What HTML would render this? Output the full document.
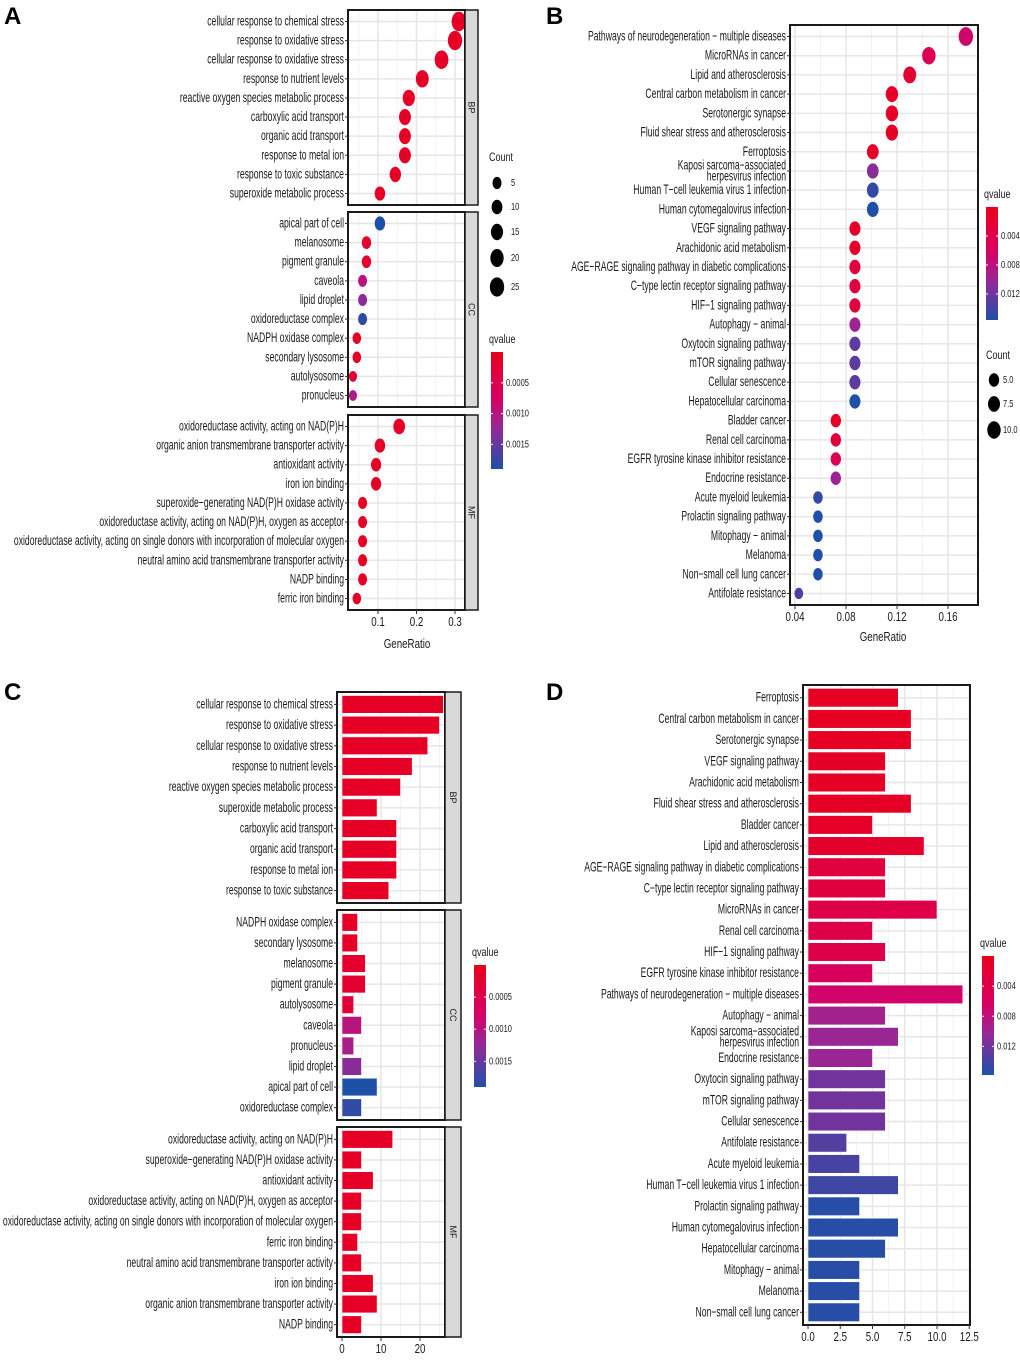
<!DOCTYPE html>
<html><head><meta charset="utf-8"><style>
html,body{margin:0;padding:0;background:#fff;}
svg{display:block;font-family:"Liberation Sans",Arial,sans-serif;}
</style></head><body>
<svg id="fig" width="1020" height="1361" viewBox="0 0 1020 1361" xmlns="http://www.w3.org/2000/svg"></svg>
<script>
// ---------- DATA ----------
const aBPTerms=["cellular response to chemical stress","response to oxidative stress","cellular response to oxidative stress","response to nutrient levels","reactive oxygen species metabolic process","carboxylic acid transport","organic acid transport","response to metal ion","response to toxic substance","superoxide metabolic process"];
const aBPRatio=[0.31,0.30,0.265,0.215,0.18,0.17,0.17,0.17,0.145,0.105];
const aBPCount=[26,25,22,18,15,14,14,14,12,9];
const aBPQ=[0.0001,0.0001,0.0001,0.0001,0.0001,0.0001,0.0001,0.0001,0.0001,0.0001];
const aCCTerms=["apical part of cell","melanosome","pigment granule","caveola","lipid droplet","oxidoreductase complex","NADPH oxidase complex","secondary lysosome","autolysosome","pronucleus"];
const aCCRatio=[0.105,0.07,0.07,0.06,0.06,0.06,0.045,0.045,0.035,0.035];
const aCCCount=[9,6,6,5,5,5,4,4,3,3];
const aCCQ=[0.0019,0.0002,0.0002,0.0010,0.0013,0.0018,0.0001,0.0001,0.0003,0.0011];
const aMFTerms=["oxidoreductase activity, acting on NAD(P)H","organic anion transmembrane transporter activity","antioxidant activity","iron ion binding","superoxide\u2212generating NAD(P)H oxidase activity","oxidoreductase activity, acting on NAD(P)H, oxygen as acceptor","oxidoreductase activity, acting on single donors with incorporation of molecular oxygen","neutral amino acid transmembrane transporter activity","NADP binding","ferric iron binding"];
const aMFRatio=[0.155,0.105,0.095,0.095,0.06,0.06,0.06,0.06,0.06,0.045];
const aMFCount=[13,9,8,8,5,5,5,5,5,4];
const aMFQ=[0.0001,0.0001,0.0001,0.0001,0.0001,0.0001,0.0001,0.0001,0.0001,0.0001];

const bTerms=["Pathways of neurodegeneration \u2212 multiple diseases","MicroRNAs in cancer","Lipid and atherosclerosis","Central carbon metabolism in cancer","Serotonergic synapse","Fluid shear stress and atherosclerosis","Ferroptosis","Kaposi sarcoma\u2212associated\nherpesvirus infection","Human T\u2212cell leukemia virus 1 infection","Human cytomegalovirus infection","VEGF signaling pathway","Arachidonic acid metabolism","AGE\u2212RAGE signaling pathway in diabetic complications","C\u2212type lectin receptor signaling pathway","HIF\u22121 signaling pathway","Autophagy \u2212 animal","Oxytocin signaling pathway","mTOR signaling pathway","Cellular senescence","Hepatocellular carcinoma","Bladder cancer","Renal cell carcinoma","EGFR tyrosine kinase inhibitor resistance","Endocrine resistance","Acute myeloid leukemia","Prolactin signaling pathway","Mitophagy \u2212 animal","Melanoma","Non\u2212small cell lung cancer","Antifolate resistance"];
const bRatio=[0.174,0.145,0.130,0.116,0.116,0.116,0.101,0.101,0.101,0.101,0.087,0.087,0.087,0.087,0.087,0.087,0.087,0.087,0.087,0.087,0.072,0.072,0.072,0.072,0.058,0.058,0.058,0.058,0.058,0.043];
const bCount=[12,10,9,8,8,8,7,7,7,7,6,6,6,6,6,6,6,6,6,6,5,5,5,5,4,4,4,4,4,3];
const bQ=[0.007,0.005,0.002,0.001,0.001,0.001,0.001,0.011,0.015,0.016,0.001,0.001,0.003,0.003,0.003,0.010,0.013,0.013,0.013,0.016,0.001,0.003,0.005,0.010,0.015,0.016,0.016,0.016,0.016,0.014];

const cBPTerms=["cellular response to chemical stress","response to oxidative stress","cellular response to oxidative stress","response to nutrient levels","reactive oxygen species metabolic process","superoxide metabolic process","carboxylic acid transport","organic acid transport","response to metal ion","response to toxic substance"];
const cBPCount=[26,25,22,18,15,9,14,14,14,12];
const cBPQ=[0.0001,0.0001,0.0001,0.0001,0.0001,0.0001,0.0001,0.0001,0.0001,0.0001];
const cCCTerms=["NADPH oxidase complex","secondary lysosome","melanosome","pigment granule","autolysosome","caveola","pronucleus","lipid droplet","apical part of cell","oxidoreductase complex"];
const cCCCount=[4,4,6,6,3,5,3,5,9,5];
const cCCQ=[0.0001,0.0001,0.0002,0.0002,0.0003,0.0010,0.0011,0.0013,0.0019,0.0018];
const cMFTerms=["oxidoreductase activity, acting on NAD(P)H","superoxide\u2212generating NAD(P)H oxidase activity","antioxidant activity","oxidoreductase activity, acting on NAD(P)H, oxygen as acceptor","oxidoreductase activity, acting on single donors with incorporation of molecular oxygen","ferric iron binding","neutral amino acid transmembrane transporter activity","iron ion binding","organic anion transmembrane transporter activity","NADP binding"];
const cMFCount=[13,5,8,5,5,4,5,8,9,5];
const cMFQ=[0.0001,0.0001,0.0001,0.0001,0.0001,0.0001,0.0001,0.0001,0.0001,0.0001];

const dTerms=["Ferroptosis","Central carbon metabolism in cancer","Serotonergic synapse","VEGF signaling pathway","Arachidonic acid metabolism","Fluid shear stress and atherosclerosis","Bladder cancer","Lipid and atherosclerosis","AGE\u2212RAGE signaling pathway in diabetic complications","C\u2212type lectin receptor signaling pathway","MicroRNAs in cancer","Renal cell carcinoma","HIF\u22121 signaling pathway","EGFR tyrosine kinase inhibitor resistance","Pathways of neurodegeneration \u2212 multiple diseases","Autophagy \u2212 animal","Kaposi sarcoma\u2212associated\nherpesvirus infection","Endocrine resistance","Oxytocin signaling pathway","mTOR signaling pathway","Cellular senescence","Antifolate resistance","Acute myeloid leukemia","Human T\u2212cell leukemia virus 1 infection","Prolactin signaling pathway","Human cytomegalovirus infection","Hepatocellular carcinoma","Mitophagy \u2212 animal","Melanoma","Non\u2212small cell lung cancer"];
const dCount=[7,8,8,6,6,8,5,9,6,6,10,5,6,5,12,6,7,5,6,6,6,3,4,7,4,7,6,4,4,4];
const dQ=[0.0005,0.0005,0.0005,0.0008,0.0008,0.0008,0.001,0.0015,0.003,0.003,0.004,0.004,0.004,0.006,0.007,0.010,0.0105,0.0105,0.0125,0.0125,0.0125,0.014,0.0145,0.015,0.016,0.016,0.016,0.016,0.016,0.016];

const aTicks=[0.1,0.2,0.3], aTickLabels=["0.1","0.2","0.3"];
const bTicks=[0.04,0.08,0.12,0.16], bTickLabels=["0.04","0.08","0.12","0.16"];
const cTicks=[0,10,20], cTickLabels=["0","10","20"];
const dTicks=[0,2.5,5,7.5,10,12.5], dTickLabels=["0.0","2.5","5.0","7.5","10.0","12.5"];

// ---------- HELPERS ----------
const NS="http://www.w3.org/2000/svg";
const svg=document.getElementById('fig');
function mk(tag,attrs,parent){const e=document.createElementNS(NS,tag);for(const k in attrs)e.setAttribute(k,attrs[k]);(parent||svg).appendChild(e);return e;}
const stops=[[0,[232,0,28]],[0.4,[216,0,100]],[0.65,[150,40,150]],[1,[30,80,168]]];
function qcol(t){t=Math.max(0,Math.min(1,t));for(let i=1;i<stops.length;i++){if(t<=stops[i][0]){const a=stops[i-1],b=stops[i];const f=(t-a[0])/(b[0]-a[0]);const c=a[1].map((v,j)=>Math.round(v+(b[1][j]-v)*f));return `rgb(${c[0]},${c[1]},${c[2]})`;}}return 'rgb(30,80,168)';}
function label(txt,x,y,parent,size,anchor){
  const lines=txt.split("\n");
  const g=mk('g',{},parent);
  lines.forEach((ln,i)=>{
    const yy=y+(i-(lines.length-1)/2)*11;
    const t=mk('text',{transform:`translate(${x},${yy+4}) scale(0.64,1)`,'font-size':size||13,'text-anchor':anchor||'end',fill:'#1a1a1a'},g);
    t.textContent=ln;
  });
  return g;
}
function smallText(txt,x,y,size,anchor){const t=mk('text',{transform:`translate(${x},${y}) scale(0.75,1)`,'font-size':size||11,'text-anchor':anchor||'start',fill:'#1a1a1a'});t.textContent=txt;return t;}
function panelBox(x0,x1,y0,y1,xMajor,xMinor,xs,n,parent){
  mk('rect',{x:x0,y:y0,width:x1-x0,height:y1-y0,fill:'#fff'},parent);
  const step=(y1-y0)/(n-1+1.2);
  xMinor.forEach(v=>mk('line',{x1:xs(v),x2:xs(v),y1:y0,y2:y1,stroke:'#f2f2f2','stroke-width':1},parent));
  xMajor.forEach(v=>mk('line',{x1:xs(v),x2:xs(v),y1:y0,y2:y1,stroke:'#e6e6e6','stroke-width':1.5},parent));
  for(let i=0;i<n;i++){const y=y0+(0.6+i)*step;mk('line',{x1:x0,x2:x1,y1:y,y2:y,stroke:'#e6e6e6','stroke-width':1.5},parent);}
  return step;
}
function frame(x0,x1,y0,y1,parent){mk('rect',{x:x0,y:y0,width:x1-x0,height:y1-y0,fill:'none',stroke:'#1a1a1a','stroke-width':2},parent);}
function strip(x0,x1,y0,y1,txt,parent){
  mk('rect',{x:x0,y:y0,width:x1-x0,height:y1-y0,fill:'#d9d9d9',stroke:'#1a1a1a','stroke-width':1.5},parent);
  const t=mk('text',{transform:`translate(${(x0+x1)/2-3},${(y0+y1)/2}) rotate(90)`,'font-size':9,'text-anchor':'middle',fill:'#1a1a1a'},parent);t.textContent=txt;
}
function rowLabels(terms,x0,y0,step,parent){
  terms.forEach((tm,i)=>{const y=y0+(0.6+i)*step;
    const lg=label(tm,x0-4,y,parent,13.5,'end');
    
    
    mk('line',{x1:x0-3,x2:x0,y1:y,y2:y,stroke:'#333','stroke-width':1},parent);});
}
function xAxis(ticks,labels,xs,y,parent){
  ticks.forEach((v,i)=>{mk('line',{x1:xs(v),x2:xs(v),y1:y,y2:y+4,stroke:'#333','stroke-width':1},parent);
    const t=smallText(labels[i],xs(v),y+16,13,'middle');});
}
function colorbar(x,y0,y1,vals,labs,qmax,title,parent){
  const id='grad'+x;
  const defs=mk('defs',{},parent);const lg=mk('linearGradient',{id:id,x1:0,y1:0,x2:0,y2:1},defs);
  stops.forEach(s=>mk('stop',{offset:s[0],'stop-color':qcol(s[0])},lg));
  const tt=smallText(title,x-2,y0-9,12);
  const r=mk('rect',{x:x,y:y0,width:12,height:y1-y0,fill:`url(#${id})`},parent);
  
  
  vals.forEach((v,i)=>{const yy=y0+(v/qmax)*(y1-y0);
    mk('line',{x1:x,x2:x+2,y1:yy,y2:yy,stroke:'#fff'},parent);mk('line',{x1:x+10,x2:x+12,y1:yy,y2:yy,stroke:'#fff'},parent);
    smallText(labs[i],x+15,yy+3,10);});
}
function letter(t,x,y){const e=mk('text',{x:x,y:y,'font-size':24,'font-weight':'bold',fill:'#000'});e.textContent=t;}

// ---------- PANEL A ----------
letter('A',4,24);
const gA=mk('g',{});
const xsA=v=>378+(v-0.1)*385;
const rA=c=>2.4+0.95*Math.sqrt(c);
const facA=[[aBPTerms,aBPRatio,aBPCount,aBPQ,10,205,'BP'],[aCCTerms,aCCRatio,aCCCount,aCCQ,212,407,'CC'],[aMFTerms,aMFRatio,aMFCount,aMFQ,415,610,'MF']];
facA.forEach(f=>{
  const st=panelBox(348,465,f[4],f[5],aTicks,[0.05,0.15,0.25],xsA,f[0].length,gA);
  f[0].forEach((tm,i)=>{const y=f[4]+(0.6+i)*st;const r=rA(f[2][i]);
    const c=mk('ellipse',{cx:xsA(f[1][i]),cy:y,rx:r,ry:r*1.35,fill:qcol(f[3][i]/0.0019)},gA);
    
    });
  frame(348,465,f[4],f[5],gA);strip(465,478,f[4],f[5],f[6],gA);rowLabels(f[0],348,f[4],st,gA);
});
xAxis(aTicks,aTickLabels,xsA,610,gA);
smallText('GeneRatio',407,648,13,'middle');
smallText('Count',489,161,12);
[5,10,15,20,25].forEach((c,i)=>{const y=[183,207,232,258,287][i];const r=rA(c);
  const e=mk('ellipse',{cx:497,cy:y,rx:r,ry:r*1.35,fill:'#000'});
  smallText(String(c),511,y+3,10);});
colorbar(491,352,469,[0.0005,0.0010,0.0015],["0.0005","0.0010","0.0015"],0.0019,'qvalue',svg);

// ---------- PANEL B ----------
letter('B',546,24);
const gB=mk('g',{});
const xsB=v=>795+(v-0.04)*1275;
const rB=c=>1.5+1.65*Math.sqrt(c);
const stB=panelBox(790,978,25,605,bTicks,[0.06,0.10,0.14],xsB,bTerms.length,gB);
bTerms.forEach((tm,i)=>{const y=25+(0.6+i)*stB;const r=rB(bCount[i]);
  const c=mk('ellipse',{cx:xsB(bRatio[i]),cy:y,rx:r,ry:r*1.3,fill:qcol(bQ[i]/0.016)},gB);
  
  });
frame(790,978,25,605,gB);rowLabels(bTerms,790,25,stB,gB);
xAxis(bTicks,bTickLabels,xsB,605,gB);
smallText('GeneRatio',883,641,13,'middle');
colorbar(986,207,320,[0.004,0.008,0.012],["0.004","0.008","0.012"],0.0156,'qvalue',svg);
smallText('Count',986,359,12);
[5,7.5,10].forEach((c,i)=>{const y=[380,404,430][i];const r=rB(c);
  const e=mk('ellipse',{cx:994,cy:y,rx:r,ry:r*1.3,fill:'#000'});
  smallText(['5.0','7.5','10.0'][i],1003,y+3,10);});

// ---------- PANEL C ----------
letter('C',4,700);
const gC=mk('g',{});
const xsC=v=>342+v*3.9;
const facC=[[cBPTerms,cBPCount,cBPQ,692,903,'BP'],[cCCTerms,cCCCount,cCCQ,910,1120,'CC'],[cMFTerms,cMFCount,cMFQ,1127,1337,'MF']];
facC.forEach(f=>{
  const st=panelBox(337,445,f[3],f[4],cTicks,[5,15,25],xsC,f[0].length,gC);
  f[0].forEach((tm,i)=>{const y=f[3]+(0.6+i)*st;const h=st*0.86;
    const b=mk('rect',{x:xsC(0),y:y-h/2,width:xsC(f[1][i])-xsC(0),height:h,fill:qcol(f[2][i]/0.0019),stroke:'#fff','stroke-width':0.6},gC);
    
    });
  frame(337,445,f[3],f[4],gC);strip(445,461,f[3],f[4],f[5],gC);rowLabels(f[0],337,f[3],st,gC);
});
xAxis(cTicks,cTickLabels,xsC,1337,gC);
colorbar(474,965,1087,[0.0005,0.0010,0.0015],["0.0005","0.0010","0.0015"],0.0019,'qvalue',svg);

// ---------- PANEL D ----------
letter('D',546,700);
const gD=mk('g',{});
const xsD=v=>808+v*12.9;
const stD=panelBox(803,970,685,1325,dTicks,[1.25,3.75,6.25,8.75,11.25],xsD,dTerms.length,gD);
dTerms.forEach((tm,i)=>{const y=685+(0.6+i)*stD;const h=stD*0.88;
  const b=mk('rect',{x:xsD(0),y:y-h/2,width:xsD(dCount[i])-xsD(0),height:h,fill:qcol(dQ[i]/0.0165),stroke:'#fff','stroke-width':0.6},gD);
  
  });
frame(803,970,685,1325,gD);rowLabels(dTerms,803,685,stD,gD);
xAxis(dTicks,dTickLabels,xsD,1325,gD);
colorbar(982,956,1075,[0.004,0.008,0.012],["0.004","0.008","0.012"],0.0158,'qvalue',svg);
</script>
</body></html>
